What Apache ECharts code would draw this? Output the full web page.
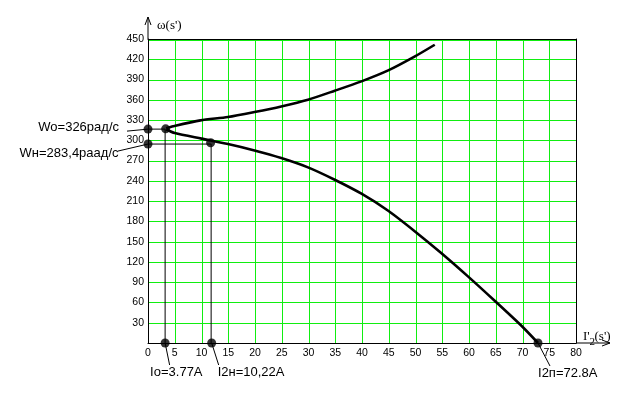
<!DOCTYPE html>
<html><head><meta charset="utf-8">
<script src="https://cdn.jsdelivr.net/npm/echarts@6/dist/echarts.min.js"></script>
<style>html,body{margin:0;padding:0;background:#fff}#c{width:624px;height:394px}</style>
</head><body><div id="c"></div>
<script>
// ---- data ----
const upperX = [3.4, 4.7, 9.8, 14.95, 19.9, 24.9, 29.9, 34.9, 39.9, 44.9, 49.9, 53.6];
const upperY = [318, 320.9, 329.5, 334.5, 341.9, 350.2, 360.1, 373.4, 387.3, 403.5, 424.3, 441.5];
const lowerX = [3.4, 5, 10, 14.95, 19.9, 24.9, 29.9, 34.9, 39.9, 44.9, 49.9, 54.8, 59.8, 64.8, 69.8, 72.9];
const lowerY = [316, 310.8, 302.5, 294.5, 285, 273.8, 260, 241.7, 221, 195.8, 165.2, 133.2, 98.6, 62.5, 25.5, 0];
const guideWo = [[0, 316.6], [3.2, 316.6], [3.2, 0]];
const guideWn = [[0, 294.5], [11.8, 294.5], [11.8, 0]];
const markerPts = [[0, 316.6], [3.3, 317], [0, 294.5], [11.7, 296.5], [3.2, 0], [11.9, 0], [72.9, 0]];
const xMin = 0, xMax = 80, xStep = 5;
const yMin = 0, yMax = 450, yStep = 30;
const yTitle = "ω(s')";
const annotations = [
  { text: 'Wo=326рад/с', at: [0, 316.6], lead: [-21, 2], tx: -29, ty: -2, align: 'right' },
  { text: 'Wн=283,4раад/с', at: [0, 294.5], lead: [-30, 7], tx: -29.5, ty: 9.5, align: 'right' },
  { text: 'Io=3.77A', at: [3.2, 0], lead: [4.5, 22], tx: -15, ty: 29, align: 'left' },
  { text: 'I2н=10,22A', at: [11.9, 0], lead: [7, 22], tx: 6, ty: 29, align: 'left' },
  { text: 'I2п=72.8A', at: [72.9, 0], lead: [12, 23], tx: 0, ty: 30, align: 'left' }
];

(function () {
const GREEN = '#11ee11';
const chart = echarts.init(document.getElementById('c'), null, { renderer: 'canvas' });
const zip = (xs, ys) => xs.map((x, i) => [x, ys[i]]);
const tickFont = { fontFamily: 'Liberation Sans', fontSize: 10.5, color: '#000' };

chart.setOption({
  animation: false,
  backgroundColor: '#fff',
  grid: { left: 148, top: 39, width: 428, height: 304 },
  xAxis: [
    { type: 'value', min: xMin, max: xMax, interval: xStep,
      axisLine: { show: true, lineStyle: { color: '#000', width: 1 } },
      axisTick: { show: false },
      axisLabel: Object.assign({ margin: 5 }, tickFont),
      splitLine: { show: false } },
    { type: 'value', position: 'top', min: xMin, max: xMax, interval: xStep,
      axisLine: { show: true, onZero: false, lineStyle: { color: '#000', width: 1 } },
      axisTick: { show: false }, axisLabel: { show: false }, splitLine: { show: false } }
  ],
  yAxis: [
    { type: 'value', min: yMin, max: yMax, interval: yStep,
      axisLine: { show: true, lineStyle: { color: '#000', width: 1 } },
      axisTick: { show: false },
      axisLabel: Object.assign({ margin: 4, formatter: v => v === 0 ? '' : String(v) }, tickFont),
      splitLine: { show: false } },
    { type: 'value', position: 'right', min: yMin, max: yMax, interval: yStep,
      axisLine: { show: true, onZero: false, lineStyle: { color: '#000', width: 1 } },
      axisTick: { show: false }, axisLabel: { show: false }, splitLine: { show: false } }
  ],
  series: [
    { type: 'line', data: guideWo, symbol: 'none', lineStyle: { color: '#000', width: 1 }, z: 3 },
    { type: 'line', data: guideWn, symbol: 'none', lineStyle: { color: '#000', width: 1 }, z: 3 },
    { type: 'line', data: zip(upperX, upperY), symbol: 'none', smooth: 0.25,
      lineStyle: { color: '#000', width: 2.6 }, z: 4 },
    { type: 'line', data: zip(lowerX, lowerY), symbol: 'none', smooth: 0.25,
      lineStyle: { color: '#000', width: 2.6 }, z: 4 },
    { type: 'scatter', data: markerPts, symbol: 'circle', symbolSize: 9, clip: false,
      itemStyle: { color: '#000' }, z: 5 }
  ]
});

// decorations: crisp grid, axis extensions with arrows, titles, annotation leaders
const px = v => chart.convertToPixel({ gridIndex: 0 }, v);
const o = px([xMin, yMin]);
const pTop = px([xMin, yMax]);
const pRight = px([xMax, yMin]);
const g = [];
const grn = { stroke: GREEN, lineWidth: 1 };
for (let v = xMin + xStep; v < xMax; v += xStep) {
  const x = Math.round(px([v, yMin])[0]) + 0.5;
  g.push({ type: 'line', z: -1, shape: { x1: x, y1: pTop[1], x2: x, y2: o[1] }, style: grn });
}
for (let v = yMin + yStep; v <= yMax; v += yStep) {
  let y = Math.round(px([xMin, v])[1]) + 0.5;
  if (v === yMax) y += 1;
  g.push({ type: 'line', z: -1, shape: { x1: o[0], y1: y, x2: pRight[0], y2: y }, style: grn });
}
const blk = { stroke: '#000', lineWidth: 1 };
const yTip = pTop[1] - 22;
g.push({ type: 'line', shape: { x1: o[0], y1: pTop[1], x2: o[0], y2: yTip }, style: blk });
g.push({ type: 'polyline', shape: { points: [[o[0] - 3, yTip + 8], [o[0], yTip], [o[0] + 3, yTip + 8]] }, style: blk });
const xTip = pRight[0] + 34;
g.push({ type: 'line', shape: { x1: pRight[0], y1: o[1], x2: xTip, y2: o[1] }, style: blk });
g.push({ type: 'polyline', shape: { points: [[xTip - 8, o[1] - 3], [xTip, o[1]], [xTip - 8, o[1] + 3]] }, style: blk });
const serif = 'Liberation Serif';
g.push({ type: 'text', x: o[0] + 9, y: yTip + 9, style: { text: yTitle, font: '13px ' + serif, fill: '#000', verticalAlign: 'middle' } });
g.push({ type: 'text', x: pRight[0] + 7, y: o[1] - 6, style: { text: "I'", font: '13px ' + serif, fill: '#000', verticalAlign: 'middle' } });
g.push({ type: 'text', x: pRight[0] + 13.5, y: o[1] - 1, style: { text: '2', font: '11px ' + serif, fill: '#000', verticalAlign: 'middle' } });
g.push({ type: 'text', x: pRight[0] + 18.5, y: o[1] - 6, style: { text: "(s')", font: '13px ' + serif, fill: '#000', verticalAlign: 'middle' } });
annotations.forEach(a => {
  const p = px(a.at);
  g.push({ type: 'line', shape: { x1: p[0], y1: p[1], x2: p[0] + a.lead[0], y2: p[1] + a.lead[1] }, style: blk });
  g.push({ type: 'text', x: p[0] + a.tx, y: p[1] + a.ty,
    style: { text: a.text, font: '13px Liberation Sans', fill: '#000', align: a.align, verticalAlign: 'middle' } });
});
chart.setOption({ graphic: g });
})();
</script>
</body></html>
